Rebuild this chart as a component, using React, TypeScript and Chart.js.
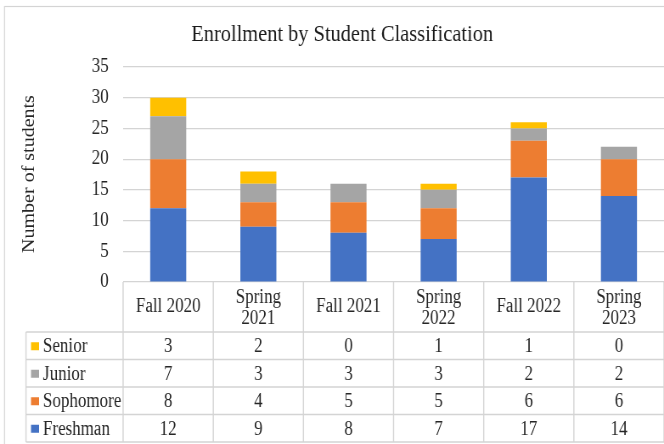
import React, { useEffect, useRef } from "react";
import { Chart, registerables } from "chart.js";

Chart.register(...registerables);

// ---- data ----
const categoryLines: string[][] = [
  ["Fall 2020"],
  ["Spring", "2021"],
  ["Fall 2021"],
  ["Spring", "2022"],
  ["Fall 2022"],
  ["Spring", "2023"],
];
const categories = categoryLines.map((l) => l.join(" "));
const freshman = [12, 9, 8, 7, 17, 14];
const sophomore = [8, 4, 5, 5, 6, 6];
const junior = [7, 3, 3, 3, 2, 2];
const senior = [3, 2, 0, 1, 1, 0];
const yMin = 0;
const yMax = 35;
const yStep = 5;
const chartTitle = "Enrollment by Student Classification";
const yTitle = "Number of students";

const COLORS = {
  Freshman: "#4472C4",
  Sophomore: "#ED7D31",
  Junior: "#A5A5A5",
  Senior: "#FFC000",
};

// internal canvas is wider and squeezed by CSS to reproduce the narrow type
const W = 782;
const H = 444;
const FONT = "'Liberation Serif', 'Times New Roman', serif";
const TEXT = "#262626";
const LINE = "#d4d4d4";

const tableRows = [
  { label: "Senior", values: senior, color: COLORS.Senior },
  { label: "Junior", values: junior, color: COLORS.Junior },
  { label: "Sophomore", values: sophomore, color: COLORS.Sophomore },
  { label: "Freshman", values: freshman, color: COLORS.Freshman },
];

const tablePlugin = {
  id: "dataTable",
  afterDraw(chart: any) {
    const ctx: CanvasRenderingContext2D = chart.ctx;
    const xs = chart.scales.x;
    const area = chart.chartArea;
    const n = categories.length;
    const colW = (area.right - area.left) / n;
    const tableTop = area.bottom;
    const headerBottom = 332;
    const rowH = 27.5;
    const tableBottom = headerBottom + rowH * tableRows.length;
    const legendLeft = 30.6;

    ctx.save();
    // outer border
    ctx.strokeStyle = LINE;
    ctx.lineWidth = 1.2;
    ctx.strokeRect(5.3, 6.5, W + 20, H + 20);

    // title
    ctx.fillStyle = "#1a1a1a";
    ctx.font = `24px ${FONT}`;
    ctx.textAlign = "center";
    ctx.textBaseline = "middle";
    ctx.fillText(chartTitle, 403, 35);

    // y axis title
    ctx.save();
    ctx.translate(35, 174);
    ctx.rotate(-Math.PI / 2);
    ctx.font = `20px ${FONT}`;
    ctx.fillStyle = TEXT;
    ctx.fillText(yTitle, 0, 0);
    ctx.restore();

    // table lines
    ctx.strokeStyle = LINE;
    ctx.lineWidth = 1.4;
    ctx.beginPath();
    for (let i = 0; i <= n; i++) {
      const lx = area.left + i * colW;
      ctx.moveTo(lx, tableTop);
      ctx.lineTo(lx, tableBottom);
    }
    ctx.moveTo(legendLeft, headerBottom);
    ctx.lineTo(legendLeft, tableBottom);
    for (let r = 0; r <= tableRows.length; r++) {
      const ly = headerBottom + r * rowH;
      ctx.moveTo(legendLeft, ly);
      ctx.lineTo(area.right, ly);
    }
    ctx.stroke();

    // header labels
    ctx.fillStyle = TEXT;
    ctx.font = `20px ${FONT}`;
    ctx.textAlign = "center";
    ctx.textBaseline = "middle";
    categoryLines.forEach((lines, i) => {
      const cx = xs.getPixelForValue(i);
      if (lines.length === 1) {
        ctx.fillText(lines[0], cx, 307);
      } else {
        ctx.fillText(lines[0], cx, 297.5);
        ctx.fillText(lines[1], cx, 318.5);
      }
    });

    // rows
    tableRows.forEach((row, r) => {
      const cy = headerBottom + r * rowH + rowH / 2 + 1;
      ctx.fillStyle = row.color;
      ctx.fillRect(36.5, cy - 4.5, 9.5, 8);
      ctx.fillStyle = TEXT;
      ctx.textAlign = "left";
      ctx.fillText(row.label, 50.6, cy);
      ctx.textAlign = "center";
      row.values.forEach((v, i) => {
        ctx.fillText(String(v), xs.getPixelForValue(i), cy);
      });
    });
    ctx.restore();
  },
};

export default function App() {
  const ref = useRef<HTMLCanvasElement>(null);

  useEffect(() => {
    if (!ref.current) return;
    const ds = (label: string, data: number[], color: string) => ({
      label,
      data,
      backgroundColor: color,
      borderWidth: 0,
      barPercentage: 0.4,
      categoryPercentage: 1,
    });
    const chart = new Chart(ref.current, {
      type: "bar",
      data: {
        labels: categories,
        datasets: [
          ds("Freshman", freshman, COLORS.Freshman),
          ds("Sophomore", sophomore, COLORS.Sophomore),
          ds("Junior", junior, COLORS.Junior),
          ds("Senior", senior, COLORS.Senior),
        ],
      },
      options: {
        responsive: false,
        animation: false,
        devicePixelRatio: 1,
        layout: { padding: { top: 67, bottom: H - 282, left: 0, right: 0 } },
        plugins: {
          legend: { display: false },
          title: { display: false },
          tooltip: { enabled: false },
        },
        scales: {
          x: {
            stacked: true,
            display: false,
          },
          y: {
            stacked: true,
            min: yMin,
            max: yMax,
            ticks: {
              stepSize: yStep,
              padding: 17,
              color: TEXT,
              font: { family: FONT, size: 20 },
            },
            grid: { color: LINE, drawTicks: false, lineWidth: 1.2 },
            border: { display: false },
            afterFit: (scale: any) => {
              scale.width = 145;
            },
          },
        },
      },
      plugins: [tablePlugin],
    } as any);
    return () => chart.destroy();
  }, []);

  return (
    <div style={{ position: "absolute", left: 0, top: 0, width: 664, height: H, background: "#fff" }}>
      <canvas
        ref={ref}
        width={W}
        height={H}
        style={{ width: "664px", height: `${H}px`, display: "block" }}
      />
    </div>
  );
}
